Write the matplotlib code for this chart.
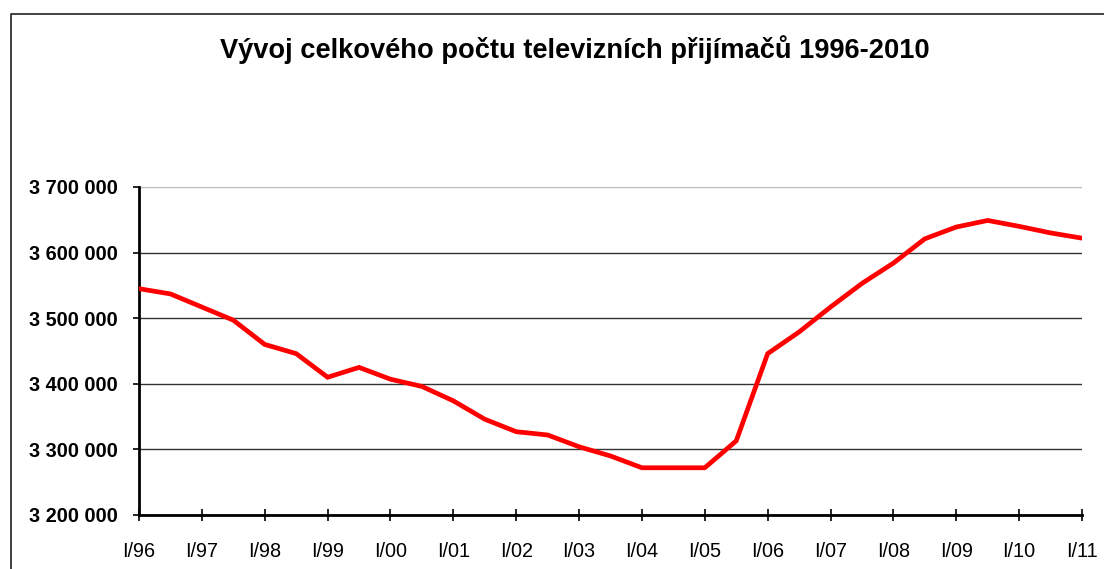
import matplotlib
matplotlib.use("Agg")
import matplotlib.pyplot as plt
from matplotlib.lines import Line2D
from matplotlib.ticker import FuncFormatter
import numpy as np

plt.rcParams["font.family"] = ["Liberation Sans", "DejaVu Sans"]

# data: half-year observations, I/96 .. I/11
title = "Vývoj celkového počtu televizních přijímačů 1996-2010"
receivers = [
    3545000, 3537000, 3517000, 3497000, 3460000, 3446000, 3410000, 3425000,
    3407000, 3396000, 3374000, 3346000, 3327000, 3322000, 3304000, 3290000,
    3272000, 3272000, 3272000, 3313000, 3446000, 3479000, 3517000, 3553000,
    3584000, 3621000, 3639000, 3649000, 3640000, 3630000, 3622000,
]
years = list(range(1996, 2012))
year_labels = ["I/%02d" % (y % 100) for y in years]
y_ticks = [3200000, 3300000, 3400000, 3500000, 3600000, 3700000]

W, H = 1104, 569
fig = plt.figure(figsize=(W / 100, H / 100), dpi=100)
ax = fig.add_axes([139 / W, 1 - 515 / H, (1082 - 139) / W, (515 - 187) / H])

x = 1996 + 0.5 * np.arange(len(receivers))
ax.plot(x, receivers, color="#ff0000", lw=3.4, solid_joinstyle="miter", zorder=3)

ax.set_xlim(1996, 2011)
ax.set_ylim(3200000, 3700000)
ax.set_xticks(years)
ax.set_xticklabels(year_labels, fontsize=14.3)
ax.set_yticks(y_ticks)
ax.yaxis.set_major_formatter(FuncFormatter(lambda v, p: f"{v:,.0f}".replace(",", " ")))
for lab in ax.get_yticklabels():
    lab.set_fontweight("bold")
    lab.set_fontsize(14.3)

ax.tick_params(axis="x", direction="inout", length=9, width=1.2, pad=15, colors="black")
ax.tick_params(axis="y", direction="out", length=4.3, width=1.2, pad=11)

ax.grid(axis="y", color="#333333", lw=1.0)
ax.get_ygridlines()[-1].set_color("#bbbbbb")
ax.set_axisbelow(True)

for s in ("top", "right"):
    ax.spines[s].set_visible(False)
for s in ("left", "bottom"):
    ax.spines[s].set_linewidth(2)
    ax.spines[s].set_color("black")

# outer chart frame (extends past right and bottom edges)
fx = 10.5 / W
fy = 1 - 14 / H
fig.add_artist(Line2D([fx, fx, 1.01], [-0.01, fy, fy], transform=fig.transFigure,
                      color="#333333", lw=1.3))

fig.text(575 / W, 1 - 50 / H, title, ha="center", va="center",
         fontsize=19.6, fontweight="bold")

fig.savefig("out.png", dpi=100)
plt.close()
